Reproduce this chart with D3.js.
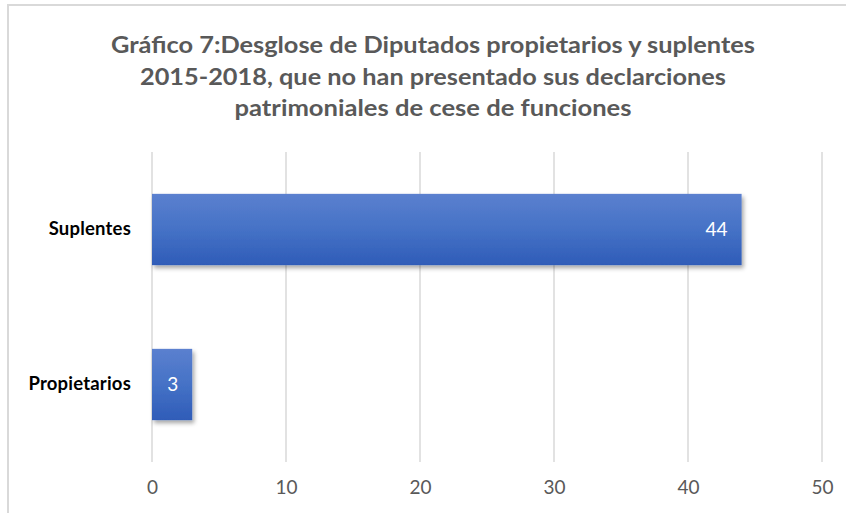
<!DOCTYPE html>
<html>
<head>
<meta charset="utf-8">
<script src="https://cdn.jsdelivr.net/npm/d3@7"></script>
<style>
  body { margin: 0; background: #fff; }
  svg { display: block; }
</style>
</head>
<body>
<div class="chart"></div>
<script>

// Data
var categories = ["Suplentes", "Propietarios"];
var values = [44, 3];
var tickValues = [0, 10, 20, 30, 40, 50];
var titleLines = [
  "Gráfico 7:Desglose de Diputados propietarios y suplentes",
  "2015-2018, que no han presentado sus declarciones",
  "patrimoniales de cese de funciones"
];

var W = 846, H = 513;
var margin = {top: 152, right: 24, bottom: 51, left: 152};
var font = "Lato, 'Open Sans', sans-serif";

var svg = d3.select(".chart")
  .append("svg")
  .attr("width", W)
  .attr("height", H);

var defs = svg.append("defs");

var grad = defs.append("linearGradient")
  .attr("id", "barGrad")
  .attr("x1", 0).attr("y1", 0)
  .attr("x2", 0).attr("y2", 1);
grad.append("stop").attr("offset", "0%").attr("stop-color", "#5b80cf");
grad.append("stop").attr("offset", "50%").attr("stop-color", "#4572c6");
grad.append("stop").attr("offset", "100%").attr("stop-color", "#2f5cb8");

var shadow = defs.append("filter")
  .attr("id", "shadow")
  .attr("x", "-20%").attr("y", "-20%")
  .attr("width", "150%").attr("height", "150%");
shadow.append("feDropShadow")
  .attr("dx", 2).attr("dy", 3)
  .attr("stdDeviation", 2)
  .attr("flood-color", "#000")
  .attr("flood-opacity", 0.35);

// chart border (only top & left are visible in the frame)
svg.append("rect")
  .attr("x", 8).attr("y", 5)
  .attr("width", W + 20).attr("height", H + 20)
  .attr("fill", "none")
  .attr("stroke", "#d9d9d9")
  .attr("stroke-width", 2);

// title
svg.append("g").selectAll("text")
  .data(titleLines)
  .enter().append("text")
  .attr("x", 433)
  .attr("y", function(d, i) { return 53 + i * 31.5; })
  .attr("text-anchor", "middle")
  .attr("fill", "#595959")
  .attr("font-family", font)
  .attr("font-weight", "bold")
  .attr("font-size", 22)
  .attr("textLength", function(d, i) { return [644, 586, 397][i]; })
  .attr("lengthAdjust", "spacingAndGlyphs")
  .text(function(d) { return d; });

var x = d3.scaleLinear()
  .domain([0, 50])
  .range([margin.left, 822]);

var y = d3.scaleBand()
  .domain(categories)
  .range([margin.top, 462])
  .paddingInner(0.54)
  .paddingOuter(0.27);

// gridlines
svg.append("g")
  .selectAll("line")
  .data(tickValues)
  .enter().append("line")
  .attr("x1", function(d) { return x(d); })
  .attr("x2", function(d) { return x(d); })
  .attr("y1", margin.top)
  .attr("y2", 462)
  .attr("stroke", "#d9d9d9")
  .attr("stroke-width", 1.5);

// x axis labels
var xAxis = svg.append("g")
  .attr("transform", "translate(0,462)")
  .call(d3.axisBottom(x).tickValues(tickValues).tickSize(0).tickPadding(19));
xAxis.select(".domain").remove();
xAxis.selectAll("text")
  .attr("fill", "#595959")
  .attr("font-family", font)
  .attr("font-size", 19);

// y axis labels
var yAxis = svg.append("g")
  .attr("transform", "translate(" + margin.left + ",0)")
  .call(d3.axisLeft(y).tickSize(0).tickPadding(21));
yAxis.select(".domain").remove();
yAxis.selectAll("text")
  .attr("fill", "#000")
  .attr("font-family", font)
  .attr("font-weight", "bold")
  .attr("font-size", 18.5)
  .attr("letter-spacing", 0.2);

// bars
svg.append("g")
  .selectAll("rect")
  .data(values)
  .enter().append("rect")
  .attr("x", x(0))
  .attr("y", function(d, i) { return y(categories[i]); })
  .attr("width", function(d) { return x(d) - x(0); })
  .attr("height", y.bandwidth())
  .attr("fill", "url(#barGrad)")
  .attr("filter", "url(#shadow)");

// value labels
svg.append("g")
  .selectAll("text")
  .data(values)
  .enter().append("text")
  .attr("x", function(d) { return x(d) - 14; })
  .attr("y", function(d, i) { return y(categories[i]) + y.bandwidth() / 2; })
  .attr("dy", "0.36em")
  .attr("text-anchor", "end")
  .attr("fill", "#fff")
  .attr("font-family", font)
  .attr("font-size", 19)
  .text(function(d) { return d; });

</script>
</body>
</html>
